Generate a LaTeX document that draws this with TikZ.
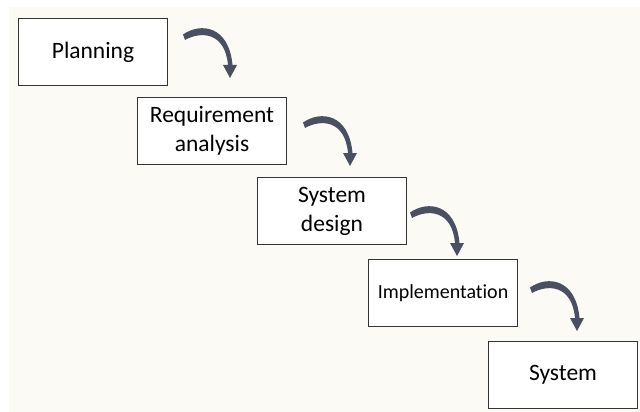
\documentclass[tikz,border=0pt]{standalone}
\usepackage{fontspec}
\setmainfont[Ligatures=NoCommon]{Carlito}
\definecolor{bgc}{HTML}{FBFAF5}
\definecolor{arrc}{HTML}{4A5062}
\definecolor{boxline}{HTML}{333333}
\tikzset{
  stage/.style={draw=boxline, line width=1pt, fill=white, minimum width=149pt, minimum height=67pt, inner sep=0pt, align=center, font=\fontsize{23.5}{29}\selectfont, anchor=north west},
  curvearrow/.pic={
    \fill[arrc] (0,2.5) .. controls (18,15) and (46,11) .. (49.5,-28)
      -- (54,-28) -- (47,-41) -- (40,-28) -- (45,-28)
      .. controls (42,5) and (18,6) .. (2,-3) -- cycle;
  }
}
\begin{document}
\begin{tikzpicture}[x=1pt,y=-1pt]
\useasboundingbox (0,0) rectangle (640,412);
\fill[white] (0,0) rectangle (640,412);
\fill[bgc] (9,7) rectangle (640,412);
\node[stage] (plan) at (18,18) {Planning};
\node[stage] (req) at (137,97) {Requirement\\analysis};
\node[stage] (des) at (257,177) {System\\design};
\node[stage, font=\fontsize{20}{24}\selectfont] (imp) at (368,259) {Implementation};
\node[stage] (sys) at (488,341) {System};
\begin{scope}[y=1pt]
\pic at (183,-37) {curvearrow};
\pic at (303,-125) {curvearrow};
\pic at (410,-215) {curvearrow};
\pic at (530,-290) {curvearrow};
\end{scope}
\end{tikzpicture}
\end{document}
